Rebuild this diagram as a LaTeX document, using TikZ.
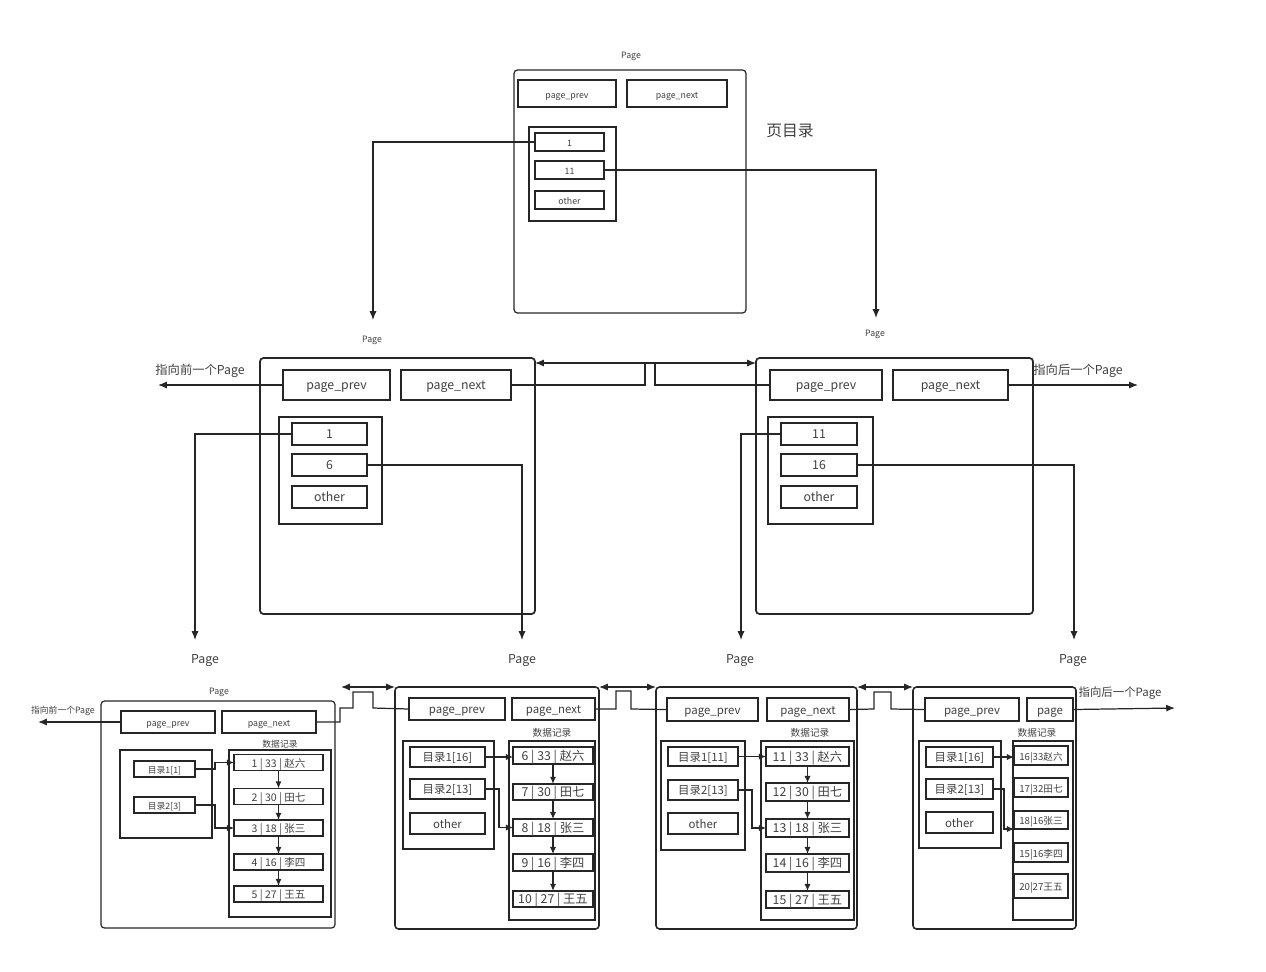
\documentclass[tikz,border=0pt]{standalone}
\usepackage{fontspec}
\setmainfont{Noto Sans CJK SC}
\usetikzlibrary{arrows.meta}
\newcommand\fs[1]{\fontsize{#1}{#1}\selectfont}
\newcommand\bx[7][]{\node[box,#1,minimum width={(#5-#3)*0.02cm},minimum height={(#6-#4)*0.02cm}] (#2) at ({(#3+#5)/2},{(#4+#6)/2}) {#7};}
\tikzset{
  box/.style={draw=black!85, line width=0.7pt, inner sep=0pt, outer sep=0pt, text=black!75, text height=0.72em, text depth=0.2em},
  thick box/.style={line width=1.1pt},
  pg/.style={rounded corners=2pt},
  lbl/.style={inner sep=0pt, text=black!75},
  ln/.style={draw=black!85, line width=0.7pt},
  arr/.style={ln, -{Latex[length=5pt,width=4pt]}},
  sarr/.style={ln, -{Latex[length=4pt,width=3.5pt]}},
  dbl/.style={ln, {Latex[length=5pt,width=4pt]}-{Latex[length=5pt,width=4pt]}},
}
\begin{document}
\begin{tikzpicture}[x=0.02cm,y=-0.02cm]
\useasboundingbox (0,0) rectangle (1266,971);

% ---------------- top page (page directory) ----------------
\begin{scope}[every node/.append style={font=\fs{5}}]
\node[lbl] (tpage) at (631,56) {Page};
\bx[pg]{T}{514}{70}{746}{313}{}
\bx{Tprev}{518}{80}{616}{107}{page\_prev}
\bx{Tnext}{627}{80}{727}{107}{page\_next}
\bx{Tdir}{529}{127}{616}{221}{}
\bx{T1}{535}{133}{604}{151}{1}
\bx{T11}{535}{161}{604}{179}{11}
\bx{Tot}{535}{191}{604}{209}{other}
\node[lbl] (pgL) at (372,340) {Page};
\node[lbl] (pgR) at (875,334) {Page};
\end{scope}
\node[lbl,font=\fs{9}] (tdl) at (790,131) {页目录};
\coordinate (e1) at (373,320);
\coordinate (e2) at (876,318);
\draw[arr] (T1.west) -| (e1);
\draw[arr] (T11.east) -| (e2);

% ---------------- middle row ----------------
\begin{scope}[every node/.append style={font=\fs{7}}, box/.append style={line width=1pt}]
\bx[pg]{ML}{260}{358}{535}{614}{}
\bx{MLprev}{283}{370}{390}{400}{page\_prev}
\bx{MLnext}{401}{370}{511}{400}{page\_next}
\bx{MLdir}{279}{417}{382}{524}{}
\bx{ML1}{292}{423}{367}{445}{1}
\bx{ML6}{292}{454}{367}{476}{6}
\bx{MLot}{292}{486}{367}{508}{other}

\bx[pg]{MR}{756}{358}{1033}{614}{}
\bx{MRprev}{770}{370}{882}{400}{page\_prev}
\bx{MRnext}{893}{370}{1008}{400}{page\_next}
\bx{MRdir}{768}{417}{873}{524}{}
\bx{MR11}{781}{423}{857}{445}{11}
\bx{MR16}{781}{454}{857}{476}{16}
\bx{MRot}{781}{486}{857}{508}{other}

\node[lbl] (ptrL) at (200,371) {指向前一个Page};
\node[lbl] (ptrR) at (1078,371) {指向后一个Page};
\node[lbl] (p1) at (205,661) {Page};
\node[lbl] (p2) at (522,661) {Page};
\node[lbl] (p3) at (740,661) {Page};
\node[lbl] (p4) at (1073,661) {Page};
\end{scope}
\coordinate (mlo) at (158,385);
\coordinate (mro) at (1138,385);
\draw[arr] (MLprev.west) -- (mlo);
\draw[arr] (MRnext.east) -- (mro);
\coordinate (d1) at (195,640);
\coordinate (d2) at (522,640);
\coordinate (d3) at (741,640);
\coordinate (d4) at (1074,640);
\draw[arr] (ML1.west) -| (d1);
\draw[arr] (ML6.east) -| (d2);
\draw[arr] (MR11.west) -| (d3);
\draw[arr] (MR16.east) -| (d4);
\coordinate (m1) at (645,363);
\coordinate (m2) at (655,363);
\draw[arr] (MLnext.east) -| (m1) -- (m1 -| MR.west);
\draw[arr] (MRprev.west) -| (m2) -- (m2 -| ML.east);

% ---------------- bottom page A ----------------
\begin{scope}[every node/.append style={font=\fs{5}}]
\node[lbl] (Apage) at (219,692) {Page};
\bx[pg]{A}{101}{701}{335}{928}{}
\bx{Aprev}{121}{711}{215}{733}{page\_prev}
\bx{Anext}{222}{711}{316}{733}{page\_next}
\node[lbl] (Aptr) at (63,711) {指向前一个Page};
\bx{Adir}{120}{750}{212}{838}{}
\bx{Ad1}{134}{761}{195}{777}{目录1[1]}
\bx{Ad2}{134}{797}{195}{813}{目录2[3]}
\node[lbl] (Adl) at (280,744) {数据记录};
\bx{Adata}{229}{750}{331}{917}{}
\end{scope}
\begin{scope}[every node/.append style={font=\fs{6}}]
\bx{Ar1}{234}{756}{323}{769}{1 | 33 | 赵六}
\bx{Ar2}{234}{790}{323}{803}{2 | 30 | 田七}
\bx{Ar3}{234}{822}{323}{834}{3 | 18 | 张三}
\bx{Ar4}{234}{856}{323}{868}{4 | 16 | 李四}
\bx{Ar5}{234}{887}{323}{901}{5 | 27 | 王五}
\end{scope}
\coordinate (Ao) at (38,722);
\draw[arr] (Aprev.west) -- (Ao);
\draw[sarr] (Ad1.east) -- ++(20,0) |- (Ar1.west);
\draw[sarr] (Ad2.east) -- ++(20,0) |- (Ar3.west);
\draw[sarr] (Ar1) -- (Ar2);
\draw[sarr] (Ar2) -- (Ar3);
\draw[sarr] (Ar3) -- (Ar4);
\draw[sarr] (Ar4) -- (Ar5);

% ---------------- bottom page B ----------------
\begin{scope}[every node/.append style={font=\fs{6.5}}, box/.append style={line width=0.9pt}]
\bx[pg]{B}{395}{687}{599}{929}{}
\bx{Bprev}{409}{698}{505}{720}{page\_prev}
\bx{Bnext}{512}{698}{595}{720}{page\_next}
\bx{Bdir}{403}{741}{494}{849}{}
\bx[thick box]{Bd1}{410}{747}{485}{767}{目录1[16]}
\bx[thick box]{Bd2}{410}{779}{485}{799}{目录2[13]}
\bx[thick box]{Bot}{410}{813}{485}{834}{other}
\node[lbl,font=\fs{5.5}] (Bdl) at (552,733) {数据记录};
\bx{Bdata}{509}{741}{595}{920}{}
\end{scope}
\begin{scope}[every node/.append style={font=\fs{7}}, box/.append style={line width=1.2pt}]
\bx{Br1}{513}{747}{593}{764}{6 | 33 | 赵六}
\bx{Br2}{513}{784}{593}{800}{7 | 30 | 田七}
\bx{Br3}{513}{819}{593}{836}{8 | 18 | 张三}
\bx{Br4}{513}{854}{593}{871}{9 | 16 | 李四}
\bx{Br5}{513}{891}{593}{907}{10 | 27 | 王五}
\end{scope}
\draw[sarr] (Bd1.east) -- (Bd1.east -| Br1.west);
\draw[sarr] (Bd2.east) -- ++(14,0) |- (Br3.west);
\draw[sarr] (Br1) -- (Br2);
\draw[sarr] (Br2) -- (Br3);
\draw[sarr] (Br3) -- (Br4);
\draw[sarr] (Br4) -- (Br5);

% ---------------- bottom page C ----------------
\begin{scope}[every node/.append style={font=\fs{6.5}}, box/.append style={line width=0.9pt}]
\bx[pg]{C}{656}{687}{857}{929}{}
\bx{Cprev}{667}{698}{758}{721}{page\_prev}
\bx{Cnext}{767}{698}{849}{721}{page\_next}
\bx{Cdir}{661}{741}{745}{850}{}
\bx[thick box]{Cd1}{668}{747}{738}{766}{目录1[11]}
\bx[thick box]{Cd2}{668}{780}{738}{800}{目录2[13]}
\bx[thick box]{Cot}{668}{813}{738}{834}{other}
\node[lbl,font=\fs{5.5}] (Cdl) at (810,733) {数据记录};
\bx{Cdata}{761}{741}{854}{920}{}
\end{scope}
\begin{scope}[every node/.append style={font=\fs{7}}, box/.append style={line width=1.2pt}]
\bx{Cr1}{766}{747}{849}{766}{11 | 33 | 赵六}
\bx{Cr2}{766}{783}{849}{801}{12 | 30 | 田七}
\bx{Cr3}{766}{819}{849}{837}{13 | 18 | 张三}
\bx{Cr4}{766}{854}{849}{872}{14 | 16 | 李四}
\bx{Cr5}{766}{891}{849}{908}{15 | 27 | 王五}
\end{scope}
\draw[sarr] (Cd1.east) -- (Cd1.east -| Cr1.west);
\draw[sarr] (Cd2.east) -- ++(14,0) |- (Cr3.west);
\draw[sarr] (Cr1) -- (Cr2);
\draw[sarr] (Cr2) -- (Cr3);
\draw[sarr] (Cr3) -- (Cr4);
\draw[sarr] (Cr4) -- (Cr5);

% ---------------- bottom page D ----------------
\begin{scope}[every node/.append style={font=\fs{6.5}}, box/.append style={line width=0.9pt}]
\bx[pg]{D}{913}{687}{1076}{929}{}
\bx{Dprev}{925}{698}{1019}{721}{page\_prev}
\bx[thick box]{Dpage}{1027}{698}{1073}{721}{page}
\node[lbl] (Dptr) at (1120,693) {指向后一个Page};
\bx{Ddir}{919}{741}{1001}{848}{}
\bx[thick box]{Dd1}{926}{747}{993}{767}{目录1[16]}
\bx[thick box]{Dd2}{926}{779}{993}{799}{目录2[13]}
\bx[thick box]{Dot}{926}{812}{993}{833}{other}
\node[lbl,font=\fs{5.5}] (Ddl) at (1037,733) {数据记录};
\bx{Ddata}{1013}{741}{1073}{920}{}
\end{scope}
\begin{scope}[every node/.append style={font=\fs{5.5}}, box/.append style={line width=1pt}]
\bx{Dr1}{1014}{746}{1068}{765}{16|33赵六}
\bx{Dr2}{1014}{778}{1068}{797}{17|32田七}
\bx{Dr3}{1014}{811}{1068}{829}{18|16张三}
\bx{Dr4}{1014}{843}{1068}{862}{15|16李四}
\bx{Dr5}{1014}{874}{1068}{898}{20|27王五}
\end{scope}
\coordinate (Do) at (1175,708);
\draw[arr] (Dpage.east) -- (Do);
\draw[sarr] (Dd1.east) -- (Dd1.east -| Dr1.west);
\draw[sarr] (Dd2.east) -- ++(11,0) |- (Dr3.south west);

% ---------------- links between bottom pages ----------------
\coordinate (ABl) at (341,687);
\draw[dbl] (ABl) -- (B.north west);
\draw[dbl] (B.north east) -- (C.north west);
\draw[dbl] (C.north east) -- (D.north west);
\draw[ln] (Anext.east) -- (340,722) -- (340,708) -- (353,708) -- (353,692) -- (373,692) -- (373,708) -- (Bprev.west);
\draw[ln] (Bnext.east) -- (616,709) -- (616,691) -- (631,691) -- (631,709) -- (Cprev.west);
\draw[ln] (Cnext.east) -- (874,709) -- (874,692) -- (891,692) -- (891,709) -- (Dprev.west);
\end{tikzpicture}
\end{document}
